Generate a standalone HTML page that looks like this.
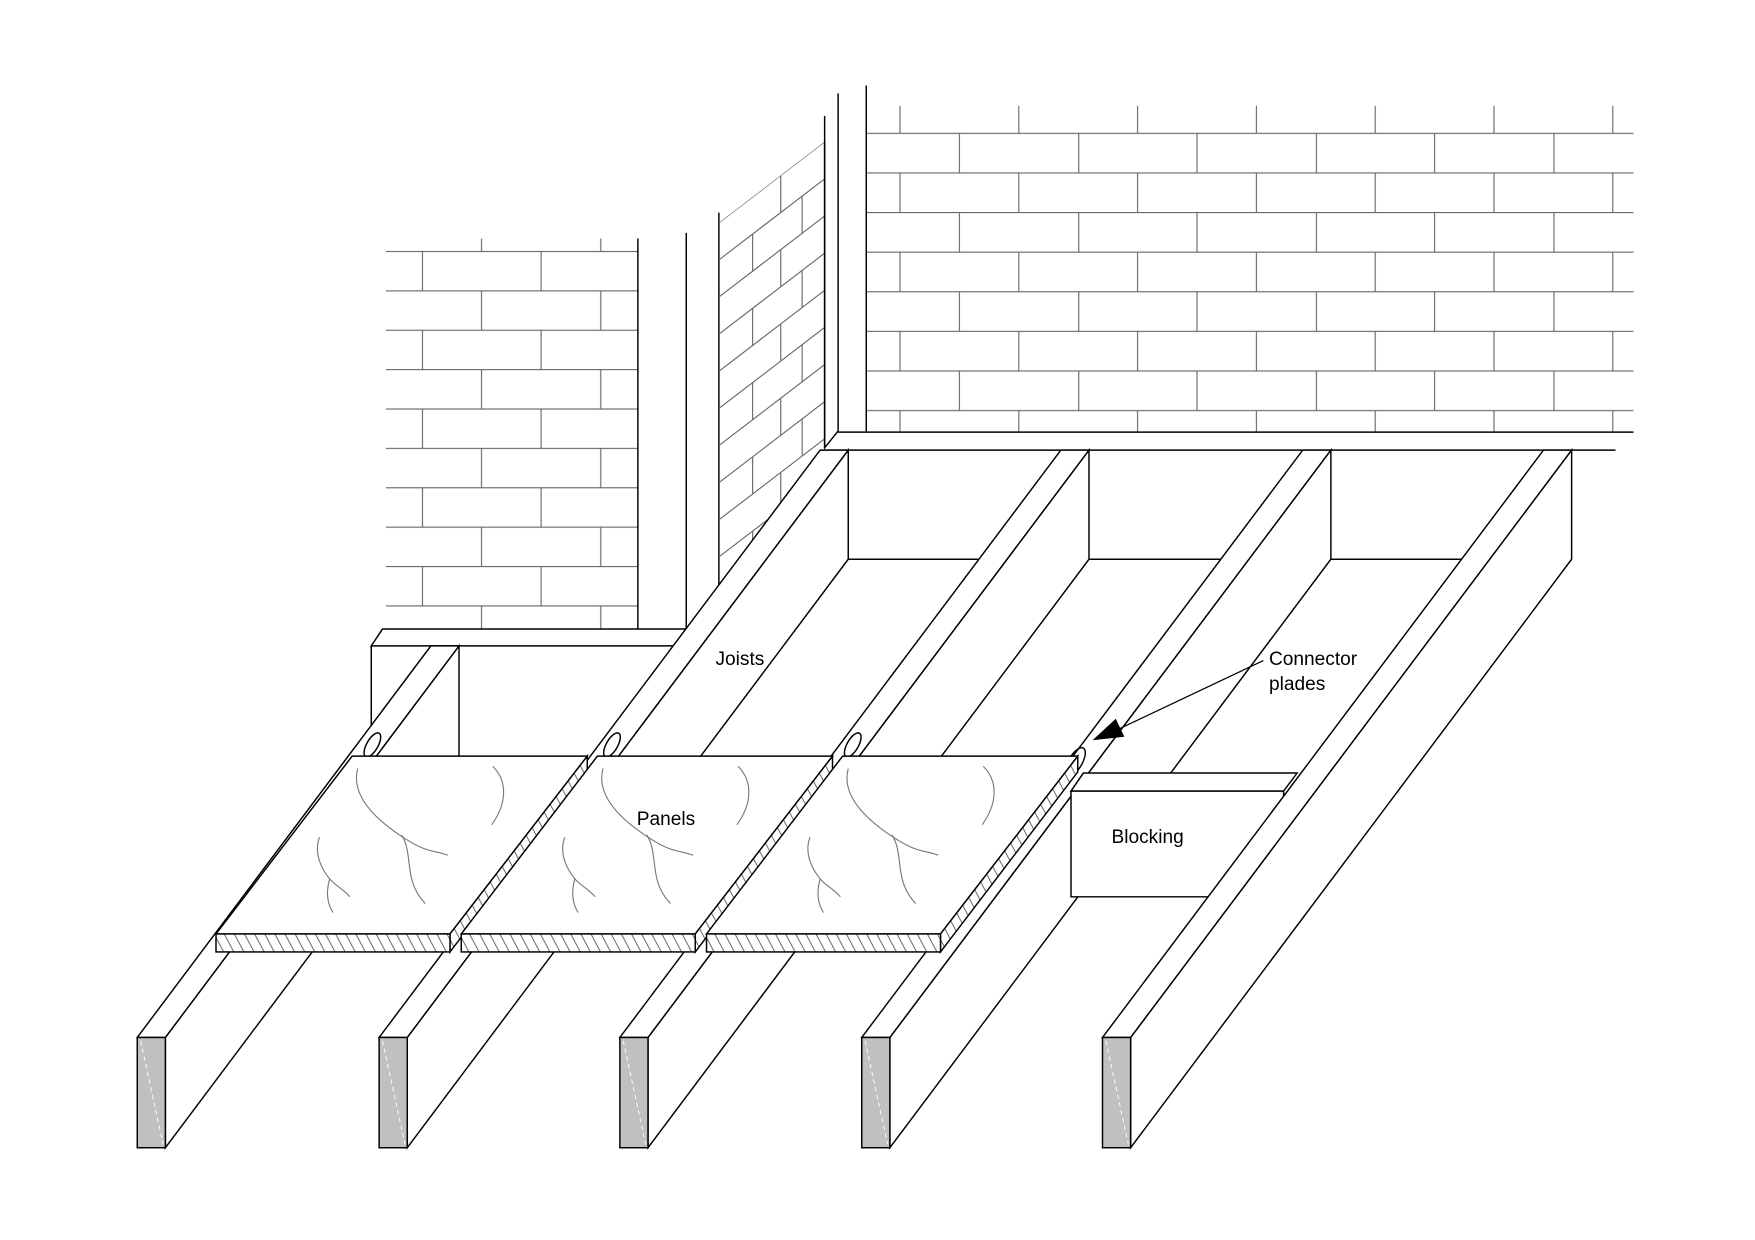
<!DOCTYPE html>
<html><head><meta charset="utf-8"><style>html,body{margin:0;padding:0;background:#fff}svg{display:block}</style></head>
<body>
<svg width="1755" height="1240" viewBox="0 0 1560 1102" preserveAspectRatio="none" xmlns="http://www.w3.org/2000/svg">
<defs>
<pattern id="bm" patternUnits="userSpaceOnUse" x="747.2" y="118" width="211.2" height="70.4">
<path d="M0,0.5H211.2M0,35.7H211.2M105.6,0V35.2M0.5,0V35.2M52.8,35.2V70.4M158.4,35.2V70.4" stroke="#666" stroke-width="1" fill="none"/>
</pattern>
<pattern id="bl" patternUnits="userSpaceOnUse" x="375" y="223" width="212" height="70">
<path d="M0,0.5H212M0,35.5H212M0.5,0V35M106,0V35M53,35V70M159,35V70" stroke="#666" stroke-width="1" fill="none"/>
</pattern>
<pattern id="hatch" patternUnits="userSpaceOnUse" width="9" height="20" patternTransform="skewX(28)">
<rect width="9" height="20" fill="#fff"/>
<path d="M1,0V20" stroke="#555" stroke-width="0.9"/>
</pattern>
<clipPath id="sw"><polygon points="639,198 733,126 733,396 639,520"/></clipPath>
</defs>
<g fill="none" stroke="#000" stroke-width="1.3">
<!-- main wall -->
<rect x="770" y="94" width="682" height="290" fill="url(#bm)" stroke="none"/>
<path d="M770,76V384M745,83V383L733,398V103M745,384H1452M733,400H1436" />
<!-- left wall -->
<rect x="343" y="212" width="224" height="347" fill="url(#bl)" stroke="none"/>
<path d="M567,212V559M610,207V559M639,189V522"/>
<!-- side wall -->
<g clip-path="url(#sw)" stroke="#666" stroke-width="1">
<path d="M639,198L733,126M639,231L733,159M639,264L733,192M639,297L733,225M639,330L733,258M639,363L733,291M639,396L733,324M639,429L733,357M639,462L733,390M639,495L733,423M639,528L733,456"/>
<path d="M694,156V189M694,222V255M694,288V321M694,354V387M694,420V453M669,208V241M669,274V307M669,340V373M669,406V439M669,472V505M713,174V207M713,240V273M713,306V339M713,372V405M713,438V471"/>
</g>
<path d="M733,126V398"/>
<!-- left ledger -->
<polygon points="340,559 611,559 599,574 330,574" fill="#fff"/>
<path d="M330,574V672"/>
<!-- floor lines -->
<path d="M754,497H872M968,497H1086M1183,497H1300"/>
<!-- joist 1 -->
<polygon points="147,922 408,574 408,672 147,1020" fill="#fff"/>
<polygon points="122,922 383,574 408,574 147,922" fill="#fff"/>
<!-- joists 2-4 -->
<polygon points="362,922 754,400 754,497 362,1020" fill="#fff"/>
<polygon points="337,922 729,400 754,400 362,922" fill="#fff"/>
<polygon points="576,922 968,400 968,497 576,1020" fill="#fff"/>
<polygon points="551,922 943,400 968,400 576,922" fill="#fff"/>
<polygon points="791,922 1183,400 1183,497 791,1020" fill="#fff"/>
<polygon points="766,922 1158,400 1183,400 791,922" fill="#fff"/>
<!-- blocking -->
<polygon points="952,703 1141,703 1141,797 952,797" fill="#fff"/>
<polygon points="963,687 1153,687 1141,703 952,703" fill="#fff"/>
<!-- joist 5 -->
<polygon points="1005,922 1397,400 1397,497 1005,1020" fill="#fff"/>
<polygon points="980,922 1372,400 1397,400 1005,922" fill="#fff"/>
<!-- joist front ends -->
<g fill="#c0c0c0">
<rect x="122" y="922" width="25" height="98"/>
<rect x="337" y="922" width="25" height="98"/>
<rect x="551" y="922" width="25" height="98"/>
<rect x="766" y="922" width="25" height="98"/>
<rect x="980" y="922" width="25" height="98"/>
</g>
<g stroke="#fff" stroke-width="0.8" stroke-dasharray="4,3">
<path d="M125,925L145,1017M340,925L360,1017M554,925L574,1017M769,925L789,1017M983,925L1003,1017"/>
</g>
<!-- connector ellipses -->
<ellipse cx="0" cy="0" rx="5" ry="12" transform="translate(331,662) rotate(30)"/>
<ellipse cx="0" cy="0" rx="5" ry="12" transform="translate(544,662) rotate(30)"/>
<ellipse cx="0" cy="0" rx="5" ry="12" transform="translate(758,662) rotate(30)"/>
<ellipse cx="0" cy="0" rx="6" ry="14" transform="translate(956,677) rotate(30)"/>
<!-- panels -->
<g id="p1">
<polygon points="313,672 522,672 400,830 192,830" fill="#fff"/>
<polygon points="400,830 522,672 522,686 400,846" fill="url(#hatch)"/>
<rect x="192" y="830" width="208" height="16" fill="url(#hatch)"/>
<g stroke="#777" stroke-width="1">
<path d="M318,683C312,705 330,725 355,742S385,755 398,760"/>
<path d="M357,742C368,760 358,782 378,803"/>
<path d="M438,681C452,695 450,715 437,733"/>
<path d="M284,744C278,760 288,775 293,781S305,790 311,797"/>
<path d="M293,781C289,795 292,805 296,811"/>
</g>
</g>
<use href="#p1" transform="translate(218,0)"/>
<use href="#p1" transform="translate(436,0)"/>
<!-- arrow -->
<path d="M1123,587L990,650" stroke-width="1.1"/>
<polygon points="973,657 991.6,639.8 998.4,654.2" fill="#000"/>
</g>
<g font-family="Liberation Sans, Arial, sans-serif" font-size="17" fill="#000">
<text x="636" y="591">Joists</text>
<text x="566" y="733">Panels</text>
<text x="1128" y="591">Connector</text>
<text x="1128" y="613">plades</text>
<text x="988" y="749">Blocking</text>
</g>
</svg>
</body></html>
